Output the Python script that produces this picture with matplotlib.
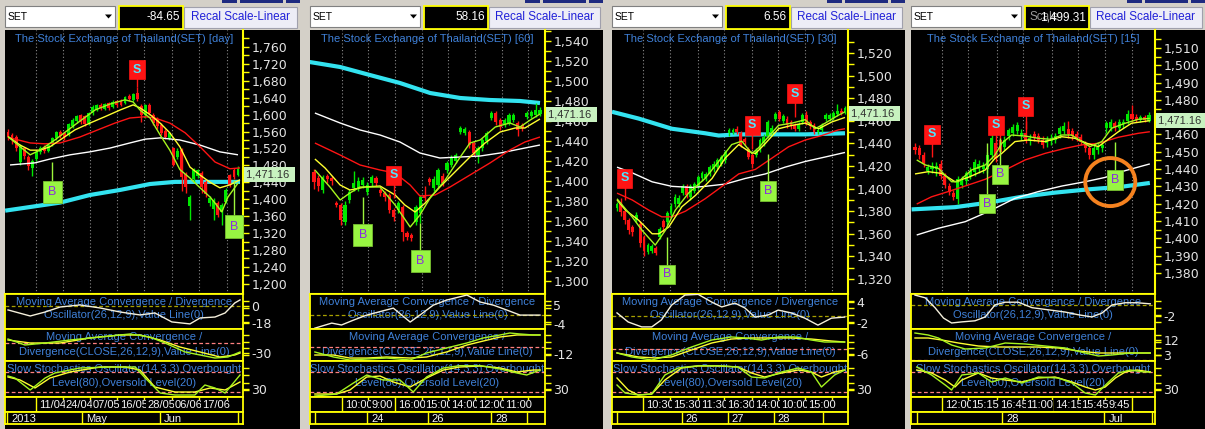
import matplotlib
matplotlib.use('Agg')
import matplotlib.pyplot as plt
from matplotlib.patches import Rectangle, Ellipse, Polygon
from matplotlib.transforms import blended_transform_factory, offset_copy
import numpy as np

# ======================= DATA =======================
# ---- Panel 1 : daily ----
p1_open = [1560,1552,1548,1488,1520,1500,1474,1495,1512,1524,1515,1530,1545,1560,1556,1552,1572,1585,1598,1596,
           1580,1605,1612,1623,1614,1627,1618,1632,1633,1628,1645,1635,1650,1620,1598,1623,1600,1590,1575,1562,
           1545,1520,1500,1516,1460,1385,1447,1455,1462,1440,1392,1378,1390,1370,1394,1457,1470,1458]
p1_close = [1548,1540,1521,1526,1502,1478,1490,1512,1522,1515,1528,1545,1558,1550,1546,1577,1588,1596,1582,1578,
            1604,1618,1622,1615,1625,1616,1630,1622,1623,1642,1636,1648,1636,1600,1622,1605,1580,1572,1557,1548,
            1556,1482,1515,1452,1430,1405,1470,1468,1428,1412,1403,1398,1363,1386,1422,1434,1453,1471.16]
p1_high = [1565,1556,1552,1530,1524,1504,1494,1515,1526,1528,1531,1548,1562,1564,1560,1580,1592,1600,1602,1600,
           1607,1622,1625,1627,1628,1630,1634,1635,1636,1645,1648,1652,1665,1624,1626,1628,1604,1594,1580,1566,
           1560,1524,1520,1520,1465,1410,1474,1472,1466,1445,1408,1402,1395,1390,1426,1460,1474,1478]
p1_low = [1540,1530,1515,1480,1496,1470,1455,1490,1508,1510,1512,1526,1540,1545,1540,1550,1568,1580,1578,1572,
          1576,1600,1608,1610,1610,1612,1615,1618,1620,1625,1632,1632,1632,1583,1592,1600,1576,1565,1552,1542,
          1540,1478,1495,1420,1415,1352,1440,1450,1415,1405,1385,1350,1358,1338,1390,1428,1448,1455]
p1_cyan_x = [-0.7, 12.9, 20.3, 27.8, 35.2, 41.4, 47.6, 57.5]
p1_cyan_y = [1373, 1392, 1410, 1422, 1436, 1441, 1441, 1441]
p1_white_x = [0.5, 6.7, 10.4, 15.4, 20.3, 25.3, 30.2, 34.0, 37.7, 42.6, 47.6, 52.5, 57.0]
p1_white_y = [1481, 1486, 1495, 1505, 1512, 1521, 1533, 1542, 1545, 1540, 1528, 1512, 1505]
p1_red_x = [0.5, 5.5, 9.2, 12.9, 17.8, 22.8, 26.5, 30.2, 34.0, 36.4, 40.1, 43.9, 47.6, 51.3, 55.0, 57.5]
p1_red_y = [1545, 1533, 1531, 1533, 1547, 1566, 1580, 1592, 1595, 1592, 1580, 1557, 1524, 1488, 1472, 1474]
p1_yel_x = [0, 3, 5.5, 7.9, 10.4, 12.9, 16.6, 20.3, 24.0, 27.8, 31.0, 32.7, 35.2, 37.7, 40.1, 42.6, 45.1, 47.6,
            50.1, 52.5, 55.0, 57.5]
p1_yel_y = [1548, 1528, 1516, 1516, 1524, 1540, 1564, 1580, 1595, 1611, 1623, 1616, 1600, 1580, 1557, 1524, 1476,
            1457, 1440, 1427, 1434, 1446]
p1_lime_x = [0, 3, 5.5, 7.9, 11.6, 16.6, 21.6, 25.3, 29.0, 31.0, 32.7, 35.2, 37.7, 40.1, 42.6, 45.1, 47.6, 50.1,
             51.3, 53.0, 54.5, 57.0]
p1_lime_y = [1548, 1524, 1505, 1516, 1540, 1576, 1611, 1625, 1635, 1630, 1611, 1592, 1552, 1516, 1470, 1450, 1427,
             1405, 1391, 1370, 1405, 1438]
p1_sig_type = ['S', 'B', 'B']
p1_sig_idx = [32, 11, 56]
p1_sig_box = [1706, 1417, 1335]
p1_sig_anchor = [1665, 1488, 1445]
p1_osc_x = [0, 5.5, 9.2, 12.9, 17.8, 22.8, 27.8, 32.7, 36.4, 40.6, 45.1, 47.6, 51.3, 53.8, 56.2, 57.5]
p1_osc_y = [-4.2, -10.6, -6.4, -1.1, 1.1, -2.1, -6.4, -9.5, -7.4, -16.9, -19, -12.7, -11.7, -7.4, 3.2, 6.4]
p1_macd_x = [0, 4.2, 9.2, 15.4, 22.8, 30.2, 35.2, 38.9, 43.9, 47.6, 51.3, 54.5, 57.5]
p1_macd_y = [12, -6, 0, 9, 18, 27, 18, 0, -27, -36, -45, -42, -27]
p1_sig_line_x = [0, 5.5, 12.9, 20.3, 27.8, 32.7, 37.7, 42.6, 47.6, 52.5, 56.2, 57.5]
p1_sig_line_y = [9, 0, 0, 15, 24, 24, 9, -12, -27, -42, -36, -30]
p1_k_x = [0, 1.7, 5.5, 9.2, 11.6, 17.8, 25.3, 31.5, 34, 37.7, 41.4, 46.3, 48.8, 51.3, 53.8, 57.5]
p1_k_y = [68, 62, 26, 62, 77, 92, 95, 95, 62, 17, 11, 11, 41, 32, 17, 71]
p1_d_x = [0, 3, 6.7, 10.4, 15.4, 22.8, 29, 32.7, 36.4, 41.4, 46.3, 50.1, 53.8, 57.5]
p1_d_y = [65, 56, 32, 62, 80, 95, 95, 86, 35, 20, 20, 32, 26, 50]
p1_grid = [6.9, 13.6, 20.3, 27.0, 33.7, 40.6, 47.3, 54.3]
p1_time_labels = ['11/04', '24/04', '07/05', '16/05', '28/05', '06/06', '17/06']
p1_month_seps = [-0.25, 18.3, 37.7, 57.0]
p1_month_labels = ['2013', 'May', 'Jun']
p1_month_pos = [-0.25, 18.3, 37.7]

# ---- Panel 2 : 60 min ----
p2_open = [1409,1403,1391,1405,1403,1378,1376,1359,1381,1393,1393,1396,1389,1398,1403,1391,1388,1386,1371,1371,
           1374,1348,1346,1359,1368,1386,1402,1393,1396,1405,1411,1416,1420,1449,1448,1449,1438,1426,1433,1440,
           1463,1468,1461,1456,1458,1461,1458,1456,1464,1465,1466,1467]
p2_close = [1399,1395,1404,1402,1400,1376,1361,1376,1389,1398,1400,1401,1396,1404,1398,1388,1384,1371,1364,1378,
            1349,1344,1343,1374,1384,1383,1399,1402,1411,1398,1418,1423,1426,1453,1452,1436,1428,1433,1441,1448,
            1468,1459,1454,1461,1466,1466,1451,1453,1468,1469,1471,1471.16]
p2_high = [1412,1406,1406,1407,1405,1380,1378,1380,1392,1410,1404,1404,1399,1406,1405,1393,1390,1388,1373,1380,
           1376,1350,1348,1376,1386,1395,1404,1405,1413,1408,1420,1426,1428,1455,1454,1451,1440,1435,1443,1450,
           1470,1470,1463,1463,1468,1468,1460,1458,1470,1471,1478,1474]
p2_low = [1392,1390,1388,1398,1396,1374,1356,1356,1378,1390,1390,1393,1386,1395,1395,1385,1380,1368,1360,1368,
          1340,1341,1340,1356,1358,1380,1396,1390,1394,1395,1408,1414,1418,1447,1446,1433,1425,1418,1430,1437,
          1461,1456,1451,1454,1456,1459,1445,1450,1462,1463,1464,1465]
p2_cyan_x = [-1.0, 5.9, 12.6, 19.4, 26.2, 33.0, 39.7, 46.5, 51.0]
p2_cyan_y = [1519, 1514, 1506, 1498, 1488, 1483, 1481, 1480, 1478]
p2_white_x = [0.2, 5.9, 10.4, 14.9, 19.4, 23.9, 28.4, 33.0, 37.5, 42.0, 46.5, 51.0]
p2_white_y = [1468, 1458, 1451, 1446, 1439, 1428, 1423, 1424, 1425, 1428, 1432, 1436]
p2_red_x = [0.2, 5.9, 10.4, 14.9, 18.3, 21.7, 23.9, 27.3, 30.7, 35.2, 39.7, 44.2, 47.6, 51.0]
p2_red_y = [1438, 1426, 1416, 1411, 1408, 1396, 1385, 1386, 1394, 1406, 1418, 1431, 1439, 1444]
p2_yel_x = [0.2, 2.5, 5.9, 8.1, 11.5, 14.9, 18.3, 20.5, 22.8, 25.1, 28.4, 31.8, 35.2, 38.6, 42.0, 45.4, 47.6, 51.0]
p2_yel_y = [1422, 1413, 1396, 1391, 1394, 1395, 1386, 1376, 1369, 1378, 1394, 1409, 1424, 1438, 1449, 1453, 1453, 1462]
p2_lime_x = [0.2, 3.6, 5.9, 8.1, 10.4, 14.9, 18.3, 21.7, 23.9, 26.2, 29.6, 33.0, 35.2, 37.5, 40.9, 44.2, 46.5,
             48.8, 51.0]
p2_lime_y = [1411, 1394, 1381, 1388, 1394, 1394, 1376, 1354, 1366, 1383, 1401, 1424, 1438, 1441, 1454, 1458, 1454,
             1461, 1467]
p2_sig_type = ['S', 'B', 'B']
p2_sig_idx = [18, 11, 24]
p2_sig_box = [1406, 1346, 1320]
p2_sig_anchor = [1383, 1384, 1358]
p2_osc_x = [0.2, 4.0, 6.2, 8.9, 11.9, 17.9, 21.7, 23.9, 26.9, 29.9, 34.5, 37.5, 40.5, 43.5, 46.5, 51.0]
p2_osc_y = [-6.2, -3.8, -4.7, -2.4, 0, 3.3, -3.3, 0, 4.7, 7.1, 9.5, 6.2, 4.7, 2.4, 0, 0]
p2_macd_x = [0.2, 4.4, 8.1, 11.9, 16.4, 21.7, 25.4, 29.9, 34.5, 38.2, 42.0, 44.2, 46.5, 49.5, 51.0]
p2_macd_y = [-8.6, -17.2, -22.4, -20.7, -19, -22.4, -10.3, -1.7, 6.9, 15.5, 20.7, 24.1, 22.4, 20.7, 20.7]
p2_sig_line_x = [0.2, 4.4, 8.1, 11.9, 16.4, 21.7, 25.4, 29.9, 34.5, 38.2, 42.0, 45.8, 51.0]
p2_sig_line_y = [-13.8, -13.8, -19, -19, -17.2, -19, -17.2, -8.6, 3.4, 10.3, 17.2, 20.7, 20.7]
p2_k_x = [0.2, 5.1, 8.9, 11.9, 15.6, 19.4, 22.4, 25.4, 29.2, 32.9, 37.5, 42.0, 45.8, 48.0, 51.0]
p2_k_y = [8, 14, 47, 71, 56, 56, 20, 65, 92, 99, 99, 89, 77, 71, 86]
p2_d_x = [0.2, 5.1, 8.1, 11.9, 14.9, 17.9, 21.7, 25.4, 29.2, 32.9, 37.5, 42.0, 45.8, 49.5, 51.0]
p2_d_y = [14, 14, 26, 65, 68, 50, 35, 62, 86, 95, 98, 92, 80, 86, 86]
p2_grid = [6.3, 12.2, 18.3, 24.4, 30.2, 36.3, 42.4, 48.3]
p2_time_labels = ['10:00', '9:00', '16:00', '15:00', '14:00', '12:00', '11:00']
p2_month_seps = [0.2, 12.0, 25.7, 40.0, 48.1]
p2_month_labels = ['24', '26', '28']
p2_month_pos = [12.0, 25.7, 40.0]

# ---- Panel 3 : 30 min ----
p3_open = [1383,1388,1380,1372,1366,1372,1369,1357,1344,1345,1347,1357,1371,1370,1378,1386,1386,1396,1402,1393,
           1398,1402,1409,1409,1413,1417,1419,1422,1425,1449,1450,1453,1449,1444,1435,1430,1430,1434,1440,1447,
           1449,1462,1468,1460,1462,1459,1456,1453,1459,1465,1459,1456,1450,1452,1462,1462,1463,1466,1469,1468]
p3_close = [1386,1379,1372,1363,1362,1377,1352,1345,1350,1349,1343,1364,1366,1378,1385,1393,1392,1402,1394,1402,
            1404,1410,1414,1413,1419,1422,1425,1428,1432,1452,1452,1450,1439,1441,1428,1422,1434,1443,1446,1459,
            1454,1466,1462,1464,1456,1455,1453,1457,1465,1458,1455,1450,1452,1456,1465,1465,1467,1469,1467,1471.16]
p3_high = [1388,1392,1382,1374,1368,1379,1371,1359,1352,1351,1349,1366,1373,1380,1387,1395,1394,1404,1404,1404,
           1406,1412,1416,1415,1421,1424,1427,1430,1434,1454,1454,1455,1451,1446,1437,1432,1436,1445,1448,1461,
           1456,1468,1470,1466,1464,1461,1458,1459,1467,1469,1461,1458,1454,1458,1467,1467,1469,1475,1471,1473]
p3_low = [1380,1376,1369,1360,1358,1370,1348,1340,1342,1343,1341,1355,1362,1368,1376,1384,1384,1394,1392,1390,
          1396,1400,1407,1407,1411,1415,1417,1420,1423,1447,1448,1448,1437,1439,1426,1418,1428,1432,1438,1445,
          1447,1460,1460,1458,1454,1453,1451,1451,1457,1456,1453,1448,1448,1450,1460,1460,1461,1464,1465,1466]
p3_cyan_x = [-1.3, 5.6, 14.2, 22.8, 26.3, 31.5, 48.7, 59.0]
p3_cyan_y = [1468, 1462, 1453, 1449, 1447, 1448, 1448, 1449]
p3_white_x = [0, 3.9, 9.1, 14.2, 19.4, 22.8, 28.0, 33.2, 38.4, 43.5, 48.7, 53.9, 59.0]
p3_white_y = [1419, 1414, 1406, 1402, 1401, 1402, 1404, 1409, 1413, 1419, 1424, 1428, 1432]
p3_red_x = [0, 3.9, 8.2, 11.6, 14.2, 17.7, 22.8, 27.2, 31.5, 35.8, 40.1, 44.4, 48.7, 53.0, 57.3, 59.0]
p3_red_y = [1396, 1390, 1381, 1375, 1375, 1380, 1391, 1402, 1413, 1417, 1427, 1437, 1443, 1447, 1452, 1453]
p3_yel_x = [0, 2.2, 5.6, 9.1, 10.8, 13.4, 16.8, 20.3, 24.6, 28.0, 31.5, 34.1, 35.8, 38.4, 41.8, 45.3, 48.7, 52.2,
            55.6, 59.0]
p3_yel_y = [1390, 1381, 1372, 1360, 1360, 1366, 1384, 1394, 1409, 1427, 1439, 1433, 1431, 1440, 1453, 1456, 1458,
            1453, 1459, 1463]
p3_lime_x = [0, 3.9, 6.5, 9.9, 12.5, 15.1, 18.5, 22.8, 26.3, 29.7, 32.3, 34.9, 36.6, 39.2, 41.8, 45.3, 48.7, 51.3,
             53.9, 57.3, 59.0]
p3_lime_y = [1391, 1375, 1363, 1350, 1363, 1381, 1396, 1409, 1424, 1439, 1442, 1431, 1436, 1446, 1456, 1458, 1461,
             1453, 1458, 1465, 1468]
p3_sig_type = ['S', 'B', 'S', 'B', 'S']
p3_sig_idx = [2, 13, 35, 39, 46]
p3_sig_box = [1409, 1324, 1456, 1398, 1484]
p3_sig_anchor = [1390, 1357, 1435, 1431, 1463]
p3_osc_x = [0, 2.9, 6.4, 9.0, 11.5, 14.1, 17.6, 21.0, 24.5, 27.1, 30.5, 33.1, 35.7, 39.1, 41.7, 45.1, 48.6, 52.0,
            55.5, 58.9]
p3_osc_y = [0.9, -1.7, -3.1, -3.1, -1.1, 3.1, 6.0, 6.2, 4.0, 2.6, 3.7, 2.3, -0.3, 0.3, 1.7, 0.9, -0.6, -2.6, -0.6,
            -0.3]
p3_macd_x = [0, 3.8, 9.0, 14.1, 19.3, 24.5, 29.6, 33.1, 37.4, 41.7, 46.0, 50.3, 53.7, 58.9]
p3_macd_y = [-4.8, -9.6, -13.3, -7.2, 2.4, 10.8, 14.5, 13.3, 10.8, 14.5, 14.5, 10.8, 8.4, 8.4]
p3_sig_line_x = [0, 5.5, 9.8, 14.1, 19.3, 24.5, 29.6, 34.8, 40.0, 45.1, 50.3, 55.5, 58.9]
p3_sig_line_y = [-4.8, -9.6, -10.8, -9.6, -1.2, 7.2, 12.0, 13.3, 13.3, 13.3, 12.0, 9.6, 8.4]
p3_k_x = [0, 2.1, 5.5, 9.0, 12.4, 15.8, 21.0, 26.2, 31.3, 34.8, 38.2, 42.6, 46.9, 50.3, 52.9, 56.3, 58.9]
p3_k_y = [41, 17, 11, 14, 71, 92, 99, 99, 95, 65, 62, 80, 92, 80, 35, 71, 86]
p3_d_x = [0, 2.9, 5.5, 9.0, 12.4, 16.7, 21.0, 26.2, 31.3, 34.8, 38.2, 42.6, 46.9, 50.3, 52.9, 56.3, 58.9]
p3_d_y = [62, 26, 11, 14, 56, 92, 98, 98, 95, 77, 65, 77, 86, 80, 65, 80, 86]
p3_grid = [6.7, 13.7, 20.9, 27.6, 34.9, 41.6, 48.6, 55.6]
p3_time_labels = ['10:30', '15:30', '11:30', '16:30', '14:00', '10:00', '15:00']
p3_month_seps = [0.0, 16.8, 28.7, 40.6, 53.2]
p3_month_labels = ['26', '27', '28']
p3_month_pos = [16.8, 28.7, 40.6]

# ---- Panel 4 : 15 min ----
p4_open = [1453,1452,1448,1439,1440,1440,1443,1436,1430,1426,1423,1431,1433,1436,1438.5,1440,1440,1440,1448,1455,
           1457,1453,1459,1460.7,1462,1459,1461,1456,1460,1459,1457,1455,1456,1457,1460,1462,1463,1462,1460,1458.7,
           1454.9,1452,1448,1451,1452,1463.6,1464,1466.4,1464,1466,1468,1472,1470,1468.5,1470,1468]
p4_close = [1451,1448,1443,1441,1442,1442,1436,1431,1427,1424,1434,1434,1437.5,1439,1444,1443,1442,1448,1458,1446,
            1450,1457,1462.6,1464.5,1465.5,1461,1457,1458,1458,1457,1454,1457,1458,1459,1463.6,1465,1460,1459,1458,
            1455.8,1452,1448,1452,1453,1454,1466.4,1467,1464.5,1467,1467.5,1472,1469,1468.5,1470,1468.5,1471.16]
p4_high = [1455,1454,1450,1443,1444,1444,1445,1438,1432,1428,1436,1436,1439,1441,1446,1445,1444,1450,1460,1457,
           1466,1459,1464,1466,1467,1463,1468,1460,1462,1461,1459,1459,1460,1461,1465,1467,1468,1464,1462,1460,
           1456,1454,1454,1455,1456,1468,1469,1468,1469,1469,1474,1477,1472,1471,1471,1473]
p4_low = [1449,1446,1441,1437,1438,1436,1434,1429,1425,1422,1420,1429,1431,1434,1436,1438,1438,1438,1446,1444,
          1448,1451,1457,1459,1460,1457,1455,1454,1456,1455,1452,1453,1454,1455,1458,1460,1458,1457,1456,1454,
          1450,1446,1446,1449,1450,1461,1462,1462,1462,1464,1466,1467,1467,1467,1467,1467]
p4_cyan_x = [-0.8, 9.4, 17.2, 25.1, 32.9, 40.8, 48.6, 55.2]
p4_cyan_y = [1416.7, 1418, 1420.6, 1424, 1426.4, 1428.3, 1429.8, 1432]
p4_white_x = [0.4, 5.5, 11.8, 17.2, 23.5, 29.0, 34.5, 40.0, 44.7, 49.4, 55.2]
p4_white_y = [1401.9, 1405.8, 1409.6, 1415.4, 1423.1, 1427, 1430.2, 1432.7, 1435.2, 1439.1, 1443]
p4_red_x = [0.4, 3.9, 7.8, 12.5, 16.5, 21.2, 25.9, 30.6, 35.3, 39.2, 43.1, 47.8, 52.5, 55.2]
p4_red_y = [1419.8, 1424, 1427, 1430.8, 1434.1, 1439.5, 1445.3, 1449.1, 1452, 1454, 1454.9, 1458.4, 1460.7, 1461.6]
p4_yel_x = [0, 3.1, 6.3, 9.4, 12.5, 16.5, 18.8, 20.4, 23.5, 26.6, 30.6, 34.5, 37.6, 40.4, 43.1, 44.7, 47.8, 50.9,
            55.2]
p4_yel_y = [1437.2, 1438.5, 1437.5, 1432.7, 1435.2, 1439.5, 1446.2, 1449.1, 1455.9, 1456.8, 1455.9, 1458.7, 1457.8,
            1454.9, 1453, 1455.9, 1461.6, 1466.5, 1468]
p4_lime_x = [0.4, 2.4, 5.5, 8.6, 10.2, 13.3, 16.5, 18.8, 20.4, 22.7, 25.9, 29.0, 32.1, 34.5, 36.8, 39.2, 41.1, 43.9,
             46.2, 49.4, 52.5, 55.2]
p4_lime_y = [1445.3, 1442.4, 1440.4, 1432.7, 1432.7, 1439.5, 1442.4, 1448.1, 1454.9, 1459.7, 1459.1, 1457.8, 1457.2,
             1459.7, 1459.7, 1455.9, 1453, 1455.9, 1463.6, 1466.5, 1468.8, 1469.3]
p4_sig_type = ['S', 'S', 'S', 'B', 'B', 'B']
p4_sig_idx = [4, 19, 26, 17, 20, 47]
p4_sig_box = [1460, 1465.2, 1476.2, 1420, 1437, 1433.7]
p4_sig_anchor = [1447, 1451, 1463, 1455, 1458, 1455.7]
p4_circle_center = (45.9, 1432.5)
p4_osc_x = [0, 2.4, 4.7, 6.7, 8.6, 11.0, 14.1, 16.5, 18.8, 21.2, 24.3, 27.5, 31.4, 35.3, 38.4, 41.6, 43.9, 46.3,
            49.4, 52.2, 55.3]
p4_osc_y = [1.8, 1.3, -0.5, -2.4, -3.3, -3.1, -2.9, -2.2, 0, 0.5, 0.5, -0.5, -0.9, -1.3, -1.8, -2.2, -1.5, 0, 0.4,
            0.4, 0.2]
p4_macd_x = [0, 3.1, 5.5, 8.6, 11.8, 16.5, 21.2, 25.9, 30.6, 35.3, 40.0, 43.1, 46.3, 50.6, 55.3]
p4_macd_y = [16.2, 15.0, 13.2, 9.0, 6.6, 7.2, 10.2, 9.6, 8.4, 7.2, 4.2, 2.4, 3.0, 4.2, 4.2]
p4_sig_line_x = [0, 3.1, 6.3, 10.2, 14.9, 19.6, 24.3, 29.0, 33.7, 38.4, 43.1, 47.8, 52.2, 55.3]
p4_sig_line_y = [13.2, 13.2, 12.0, 10.2, 8.4, 7.8, 7.8, 7.8, 7.2, 5.4, 4.2, 4.2, 4.2, 4.2]
p4_k_x = [0.4, 3.9, 7.1, 8.6, 11.0, 14.9, 18.0, 21.2, 25.1, 29.0, 33.7, 36.9, 40.0, 42.4, 45.5, 47.8, 50.6, 53.8,
          55.3]
p4_k_y = [95, 71, 41, 26, 71, 77, 50, 62, 47, 65, 62, 47, 17, 11, 50, 77, 86, 80, 80]
p4_d_x = [0.4, 3.9, 7.1, 9.4, 11.0, 14.9, 18.0, 21.2, 25.1, 29.0, 32.9, 36.9, 40.0, 42.4, 44.7, 47.1, 49.4, 52.2,
          55.3]
p4_d_y = [86, 77, 56, 35, 56, 77, 62, 56, 50, 62, 65, 50, 35, 26, 35, 62, 80, 86, 80]
p4_grid = [6.4, 12.5, 19.3, 25.4, 32.2, 38.4, 44.7, 51.1]
p4_time_labels = ['12:00', '15:15', '16:45', '11:00', '14:15', '15:45', '9:45']
p4_month_seps = [0.5, 20.5, 44.5, 55.8]
p4_month_labels = ['28', 'Jul']
p4_month_pos = [20.5, 44.5]

timeframes = ['day', '60', '30', '15']
value_texts = ['-84.65', '58.16', '6.56', '1,499.31']
main_ticks = [list(range(1200, 1761, 40)), list(range(1300, 1541, 20)),
              list(range(1320, 1521, 20)), list(range(1380, 1511, 10))]
osc_ticks = [[0, -18], [5, -4], [4, -2], [-2]]
macd_ticks = [[-30], [-12], [-6], [12, 3]]
sto_ticks = [[30], [30], [30], [30]]

# ======================= LAYOUT / STYLE =======================
W, H = 1205, 429
plt.rcParams['font.family'] = ['Liberation Sans', 'DejaVu Sans']
fig = plt.figure(figsize=(W / 100, H / 100), dpi=100)
fig.patch.set_facecolor('#d4d0c8')

YEL = '#ffff00'
CYAN = '#33e3f0'
GREEN = '#00e800'
RED = '#ff1414'
LIME = '#a6f51e'
YLINE = '#ffff30'
BLUE = '#3f80d8'
TICKC = '#e4e4e4'

LAY = [
    dict(x0=5, axx=243, x1=300, first=8, last=238, ylim=(1176, 1800),
         osc=(-24.4, 12.7), macd=(-54, 42), bpad=0.42),
    dict(x0=310, axx=545, x1=603, first=314, last=540, ylim=(1287, 1551),
         osc=(-6.6, 10), macd=(-24.1, 31), bpad=0.42),
    dict(x0=612, axx=848, x1=905, first=617, last=845, ylim=(1306.7, 1540.4),
         osc=(-3.7, 6.3), macd=(-14.5, 24.1), bpad=0.3),
    dict(x0=911, axx=1155, x1=1205, first=915, last=1149, ylim=(1367.8, 1520.4),
         osc=(-4.4, 2.0), macd=(-0.6, 18.6), bpad=0.3),
]
STO_LIM = (5, 113)

PANELS = []
for p in ['p1', 'p2', 'p3', 'p4']:
    g = globals()
    PANELS.append(dict(
        o=g[p + '_open'], c=g[p + '_close'], h=g[p + '_high'], l=g[p + '_low'],
        ma=[(g[p + '_cyan_x'], g[p + '_cyan_y'], CYAN, 3.0, 2),
            (g[p + '_white_x'], g[p + '_white_y'], 'white', 1.0, 4),
            (g[p + '_red_x'], g[p + '_red_y'], RED, 1.0, 4),
            (g[p + '_yel_x'], g[p + '_yel_y'], YLINE, 1.0, 4),
            (g[p + '_lime_x'], g[p + '_lime_y'], LIME, 1.0, 4)],
        sig=list(zip(g[p + '_sig_type'], g[p + '_sig_idx'], g[p + '_sig_box'], g[p + '_sig_anchor'])),
        osc=(g[p + '_osc_x'], g[p + '_osc_y']),
        macd=(g[p + '_macd_x'], g[p + '_macd_y']),
        sigl=(g[p + '_sig_line_x'], g[p + '_sig_line_y']),
        k=(g[p + '_k_x'], g[p + '_k_y']), d=(g[p + '_d_x'], g[p + '_d_y']),
        grid=g[p + '_grid'], tl=g[p + '_time_labels'],
        mseps=g[p + '_month_seps'], mlab=g[p + '_month_labels'], mpos=g[p + '_month_pos'],
    ))

# background / chrome axes
bg = fig.add_axes([0, 0, 1, 1])
bg.set_xlim(0, W)
bg.set_ylim(H, 0)
bg.axis('off')
bg.set_zorder(0)


def px_ax(x0, y0, x1, y1, z=1):
    a = fig.add_axes([x0 / W, 1 - y1 / H, (x1 - x0) / W, (y1 - y0) / H])
    a.set_facecolor('black')
    a.set_zorder(z)
    a.set_xticks([])
    return a


def style_right_ticks(a, major, labels, minor):
    a.yaxis.tick_right()
    a.set_yticks(major)
    a.set_yticklabels(labels, fontfamily='DejaVu Sans', fontsize=9)
    a.set_yticks(minor, minor=True)
    a.tick_params(axis='y', which='both', color=YEL, length=4, width=1, direction='out',
                  labelcolor=TICKC, pad=2, left=False, right=True)
    a.tick_params(axis='x', which='both', bottom=False, labelbottom=False)


for k in range(4):
    L = LAY[k]
    P = PANELS[k]
    x0, axx, x1 = L['x0'], L['axx'], L['x1']
    # chrome
    bg.add_patch(Rectangle((x0, 30), x1 - x0, H - 30, fc='black', ec='none'))
    bg.add_patch(Rectangle((x0, 6), 110, 21, fc='white', ec='#808080', lw=0.8))
    bg.text(x0 + 3, 16.5, 'SET', fontsize=7.5, va='center', ha='left', color='black')
    bg.add_patch(Polygon([[x0 + 100, 14.5], [x0 + 107, 14.5], [x0 + 103.5, 18.5]], closed=True,
                         fc='black', ec='none'))
    bg.add_patch(Rectangle((x0 + 114, 5.5), 64, 23.5, fc='black', ec=YEL, lw=1.3))
    if k == 3:
        bg.text(x0 + 118, 17.5, 'Scale', color='#9a9a9a', fontsize=8.5, ha='left', va='center')
    bg.text(x0 + 175, 17.5, value_texts[k], color='white', fontsize=8.5, ha='right', va='center')
    bx0 = x0 + 179
    bg.add_patch(Rectangle((bx0, 7), (x1 - 3) - bx0, 21, fc='#ededf6', ec='#a0a0ac', lw=0.8))
    bg.text((bx0 + x1 - 3) / 2, 17.5, 'Recal Scale-Linear', color='#2020d8', fontsize=8.5,
            ha='center', va='center')
    for (a, b) in [(x1 - 78, x1 - 63), (x1 - 60, x1 - 17), (x1 - 14, x1)]:
        bg.add_patch(Rectangle((a, 0), b - a, 3, fc='#1e2a80', ec='none'))

    n = min(len(P['o']), len(P['c']), len(P['h']), len(P['l']))
    o = np.array(P['o'][:n], float)
    c = np.array(P['c'][:n], float)
    hi = np.array(P['h'][:n], float)
    lo = np.array(P['l'][:n], float)
    s = (L['last'] - L['first']) / (n - 1)
    xl = (-(L['first'] - x0) / s, (n - 1) + (axx - L['last']) / s)

    # ---------- main price chart ----------
    ax = px_ax(x0, 30, axx, 294)
    ax.set_xlim(*xl)
    ax.set_ylim(*L['ylim'])
    for sp in ['left', 'top']:
        ax.spines[sp].set_visible(False)
    for sp in ['right', 'bottom']:
        ax.spines[sp].set_color(YEL)
        ax.spines[sp].set_linewidth(1.5)
    mt = main_ticks[k]
    step = mt[1] - mt[0]
    minor = [v + step / 2 for v in mt]
    style_right_ticks(ax, mt, [f'{v:,}' for v in mt], minor)
    ax.vlines(P['grid'], L['ylim'][0], L['ylim'][1], colors='#8a8a8a', linestyles=(0, (1, 2)),
              lw=0.8, zorder=1)
    ppu = 264.0 / (L['ylim'][1] - L['ylim'][0])
    idx = np.arange(n)
    cols = np.where(c >= o, GREEN, RED)
    ax.vlines(idx, lo, hi, colors=cols, lw=1, zorder=3)
    body = np.maximum(np.abs(c - o), 1.2 / ppu)
    ax.bar(idx, body, bottom=np.minimum(o, c), width=0.72, color=cols, lw=0, zorder=3)
    for (mx, my, col, lw, z) in P['ma']:
        ax.plot(mx, my, color=col, lw=lw, zorder=z, solid_capstyle='butt')
    for (t, i, bp, an) in P['sig']:
        if t == 'S':
            ax.vlines(i, an, bp, colors=RED, lw=1, zorder=6)
            ax.text(i, bp, 'S', ha='center', va='center', color='#4ee6ff', fontsize=9, fontweight='bold',
                    zorder=7, bbox=dict(boxstyle='square,pad=0.28', fc=RED, ec=RED, lw=0.5))
        else:
            ax.vlines(i, an, bp, colors='#9cf53c', lw=1, zorder=6)
            ax.text(i, bp, 'B', ha='center', va='center', color='#8a2be2', fontsize=9,
                    zorder=7, bbox=dict(boxstyle='square,pad=%.2f' % L['bpad'], fc='#98f542', ec='#78c030',
                                        lw=0.6))
    # current price
    last = c[-1]
    tr = offset_copy(blended_transform_factory(ax.transAxes, ax.transData), fig=fig, x=3, y=0, units='dots')
    ax.text(1.0, last, f'{last:,.2f} ', transform=tr, ha='left', va='top', fontsize=8, color='#303030',
            clip_on=False, zorder=10,
            bbox=dict(boxstyle='square,pad=0.22', fc='#c8f2c0', ec='none'))
    ax.text(0.5, 1 - 8.5 / 264, f'The Stock Exchange of Thailand(SET) [{timeframes[k]}]',
            transform=ax.transAxes, ha='center', va='center', color=BLUE, fontsize=8, zorder=8)
    if k == 3:
        cx, cy = p4_circle_center
        ax.add_patch(Ellipse((cx, cy), width=50 / s, height=48 / ppu, fill=False, ec='#f5821f',
                             lw=2.8, zorder=8))

    # ---------- sub panels ----------
    subs = [
        (294, 329, L['osc'], osc_ticks[k],
         ['Moving Average Convergence / Divergence', 'Oscillator(26,12,9),Value Line(0)'], (0.77, 0.40)),
        (329, 361, L['macd'], macd_ticks[k],
         ['Moving Average Convergence /', 'Divergence(CLOSE,26,12,9),Value Line(0)'], (0.75, 0.28)),
        (361, 397, STO_LIM, sto_ticks[k],
         ['Slow Stochastics Oscillator(14,3,3),Overbought', 'Level(80),Oversold Level(20)'], (0.78, 0.39)),
    ]
    for j, (y0, y1, lim, ticks, labs, ly) in enumerate(subs):
        sa = px_ax(x0, y0, axx, y1)
        sa.set_xlim(*xl)
        sa.set_ylim(*lim)
        for sp in sa.spines.values():
            sp.set_color(YEL)
            sp.set_linewidth(1.3)
        style_right_ticks(sa, ticks, [str(t) for t in ticks], list(np.linspace(lim[0], lim[1], 6)[1:-1]))
        sa.text(0.5, ly[0], labs[0], transform=sa.transAxes, ha='center', va='center', color=BLUE,
                fontsize=8, zorder=1)
        sa.text(0.5, ly[1], labs[1], transform=sa.transAxes, ha='center', va='center', color=BLUE,
                fontsize=8, zorder=1)
        if j == 0:
            sa.axhline(0, color='#a8a000', lw=0.9, ls=(0, (3, 2)), zorder=2)
            sa.plot(P['osc'][0], P['osc'][1], color='#f5f0dc', lw=1, zorder=3)
        elif j == 1:
            sa.axhline(0, color='#ff8080', lw=0.9, ls=(0, (3, 2)), zorder=2)
            sa.plot(P['sigl'][0], P['sigl'][1], color=YLINE, lw=1, zorder=3)
            sa.plot(P['macd'][0], P['macd'][1], color=LIME, lw=1, zorder=3)
        else:
            sa.axhline(20, color='#ff8080', lw=0.9, ls=(0, (3, 2)), zorder=2)
            sa.axhline(80, color='#ff8080', lw=0.9, ls=(0, (3, 2)), zorder=2)
            sa.plot(P['d'][0], P['d'][1], color=YLINE, lw=1, zorder=3)
            sa.plot(P['k'][0], P['k'][1], color=LIME, lw=1, zorder=3)

    # ---------- time rows ----------
    ta = px_ax(x0, 397, axx, 412)
    ta.set_xlim(*xl)
    ta.set_ylim(0, 1)
    ta.set_yticks([])
    for sp in ta.spines.values():
        sp.set_color(YEL)
        sp.set_linewidth(1.3)
    ta.vlines(P['grid'][:len(P['tl']) + 1], 0, 1, colors=YEL, lw=1, zorder=1)
    ttr = offset_copy(blended_transform_factory(ta.transData, ta.transAxes), fig=fig, x=3, y=0, units='dots')
    for gpos, lab in zip(P['grid'], P['tl']):
        ta.text(gpos, 0.45, lab, transform=ttr, ha='left', va='center', color='#f4f4f4', fontsize=8,
                zorder=3, bbox=dict(boxstyle='square,pad=0.05', fc='black', ec='none'))

    ma_ = px_ax(x0, 412, axx, 424)
    ma_.set_xlim(*xl)
    ma_.set_ylim(0, 1)
    ma_.set_yticks([])
    for sp in ma_.spines.values():
        sp.set_color(YEL)
        sp.set_linewidth(1.3)
    ma_.vlines(P['mseps'], 0, 1, colors=YEL, lw=1)
    mtr = offset_copy(blended_transform_factory(ma_.transData, ma_.transAxes), fig=fig, x=4, y=0, units='dots')
    for mpos, lab in zip(P['mpos'], P['mlab']):
        ma_.text(mpos, 0.45, lab, transform=mtr, ha='left', va='center', color='#f4f4f4', fontsize=8)

fig.savefig('out.png', dpi=100, facecolor=fig.get_facecolor())
